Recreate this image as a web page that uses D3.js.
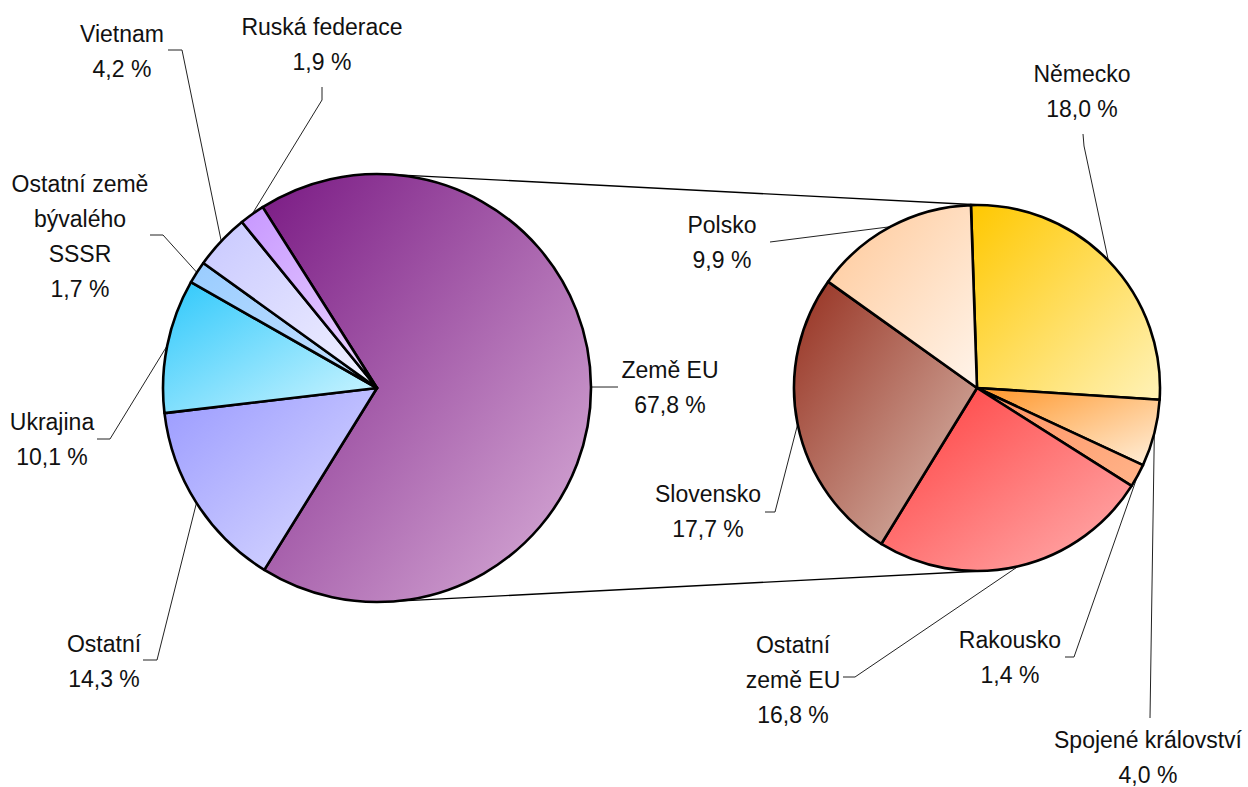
<!DOCTYPE html>
<html>
<head>
<meta charset="utf-8">
<script src="https://cdn.jsdelivr.net/npm/d3@7"></script>
<style>
  body { margin: 0; background: #fff; }
  svg text { font-family: "Liberation Sans", Arial, sans-serif; font-size: 23px; fill: #111; }
</style>
</head>
<body>
<svg id="chart" width="1248" height="787"></svg>
<script>
// left pie: all, right pie: breakdown of "Země EU"
var mainLabels = [["Země EU"], ["Ostatní"], ["Ukrajina"], ["Ostatní země", "bývalého", "SSSR"], ["Vietnam"], ["Ruská federace"]];
var mainValues = [67.8, 14.3, 10.1, 1.7, 4.2, 1.9];
var euLabels = [["Německo"], ["Spojené království"], ["Rakousko"], ["Ostatní", "země EU"], ["Slovensko"], ["Polsko"]];
var euValues = [18.0, 4.0, 1.4, 16.8, 17.7, 9.9];

// styles: gradient stops [dark, light]
var mainColors = [["#7a1a84", "#dbb2da"], ["#9a9aff", "#dedeff"], ["#2ec8fb", "#d2f6ff"], ["#99ccff", "#c6e2ff"], ["#c8c8ff", "#f2f2ff"], ["#c797ff", "#ecd8ff"]];
var euColors = [["#ffc800", "#fff2b8"], ["#ff9528", "#fff0dc"], ["#ff9060", "#ffb48a"], ["#ff3c3c", "#ffb0b0"], ["#963020", "#dcc0b4"], ["#ffc898", "#fff4ea"]];

// label layout (text centre x, first baseline y, leader points)
var mainLayout = [
  {x: 670, y: 378, pts: [[618, 387]]},
  {x: 104, y: 652, pts: [[143, 660], [157, 660]]},
  {x: 52, y: 430, pts: [[97, 439], [110, 439]]},
  {x: 80, y: 192, pts: [[150, 235], [163, 235]]},
  {x: 122, y: 42, pts: [[168, 50], [182, 50]]},
  {x: 322, y: 35, pts: [[322, 87], [322, 100]]}
];
var euLayout = [
  {x: 1082, y: 82, pts: [[1083, 134], [1084, 146]]},
  {x: 1148, y: 748, pts: [[1150, 718]]},
  {x: 1010, y: 648, pts: [[1065, 657], [1074, 657]]},
  {x: 793, y: 653, pts: [[843, 677], [855, 677]]},
  {x: 708, y: 502, pts: [[765, 512], [775, 512]]},
  {x: 722, y: 233, pts: [[770, 242]]}
];

var svg = d3.select("#chart");
var defs = svg.append("defs");
var fmt = function(v) { return d3.format(".1f")(v).replace(".", ",") + " %"; };
var lineSpacing = 35;

var left = {cx: 377, cy: 388, r: 214, start: -32.3 * Math.PI / 180};
var right = {cx: 977, cy: 388, r: 183, start: -1.9 * Math.PI / 180};

function drawPie(p, values, labels, colors, layout, id) {
  var pie = d3.pie().sort(null).startAngle(p.start).endAngle(p.start + 2 * Math.PI);
  var arcs = pie(values);
  var arc = d3.arc().innerRadius(0).outerRadius(p.r);
  var edge = d3.arc().innerRadius(p.r).outerRadius(p.r);

  colors.forEach(function(c, i) {
    var g = defs.append("linearGradient").attr("id", id + i)
      .attr("x1", 0).attr("y1", 0).attr("x2", 1).attr("y2", 1);
    g.append("stop").attr("offset", "0%").attr("stop-color", c[0]);
    g.append("stop").attr("offset", "100%").attr("stop-color", c[1]);
  });

  // leader lines
  svg.append("g").selectAll("polyline")
    .data(arcs)
    .enter()
    .append("polyline")
    .attr("points", function(d, i) {
      var e = edge.centroid(d);
      var pts = layout[i].pts.concat([[p.cx + e[0], p.cy + e[1]]]);
      return pts.map(function(q) { return q.join(","); }).join(" ");
    })
    .style("fill", "none")
    .style("stroke", "#222")
    .style("stroke-width", "1px");

  var g = svg.append("g").attr("transform", "translate(" + p.cx + "," + p.cy + ")");
  g.selectAll("path")
    .data(arcs)
    .enter()
    .append("path")
    .attr("d", arc)
    .attr("fill", function(d, i) { return "url(#" + id + i + ")"; })
    .style("stroke", "#000")
    .style("stroke-width", "2.6px")
    .style("stroke-linejoin", "round");

  // labels
  var t = svg.append("g").selectAll("text")
    .data(arcs)
    .enter()
    .append("text")
    .attr("text-anchor", "middle");
  t.each(function(d, i) {
    var lines = labels[i].concat([fmt(values[i])]);
    var el = d3.select(this);
    lines.forEach(function(s, k) {
      el.append("tspan")
        .attr("x", layout[i].x)
        .attr("y", layout[i].y + k * lineSpacing)
        .text(s);
    });
  });
}

// connector lines: outer tangents of both circles
var dist = right.cx - left.cx;
var alpha = Math.asin((left.r - right.r) / dist);
[-1, 1].forEach(function(s) {
  svg.append("line")
    .attr("x1", left.cx + left.r * Math.sin(alpha))
    .attr("y1", left.cy + s * left.r * Math.cos(alpha))
    .attr("x2", right.cx + right.r * Math.sin(alpha))
    .attr("y2", right.cy + s * right.r * Math.cos(alpha))
    .style("stroke", "#000")
    .style("stroke-width", "1.3px");
});

drawPie(left, mainValues, mainLabels, mainColors, mainLayout, "gm");
drawPie(right, euValues, euLabels, euColors, euLayout, "ge");
</script>
</body>
</html>
